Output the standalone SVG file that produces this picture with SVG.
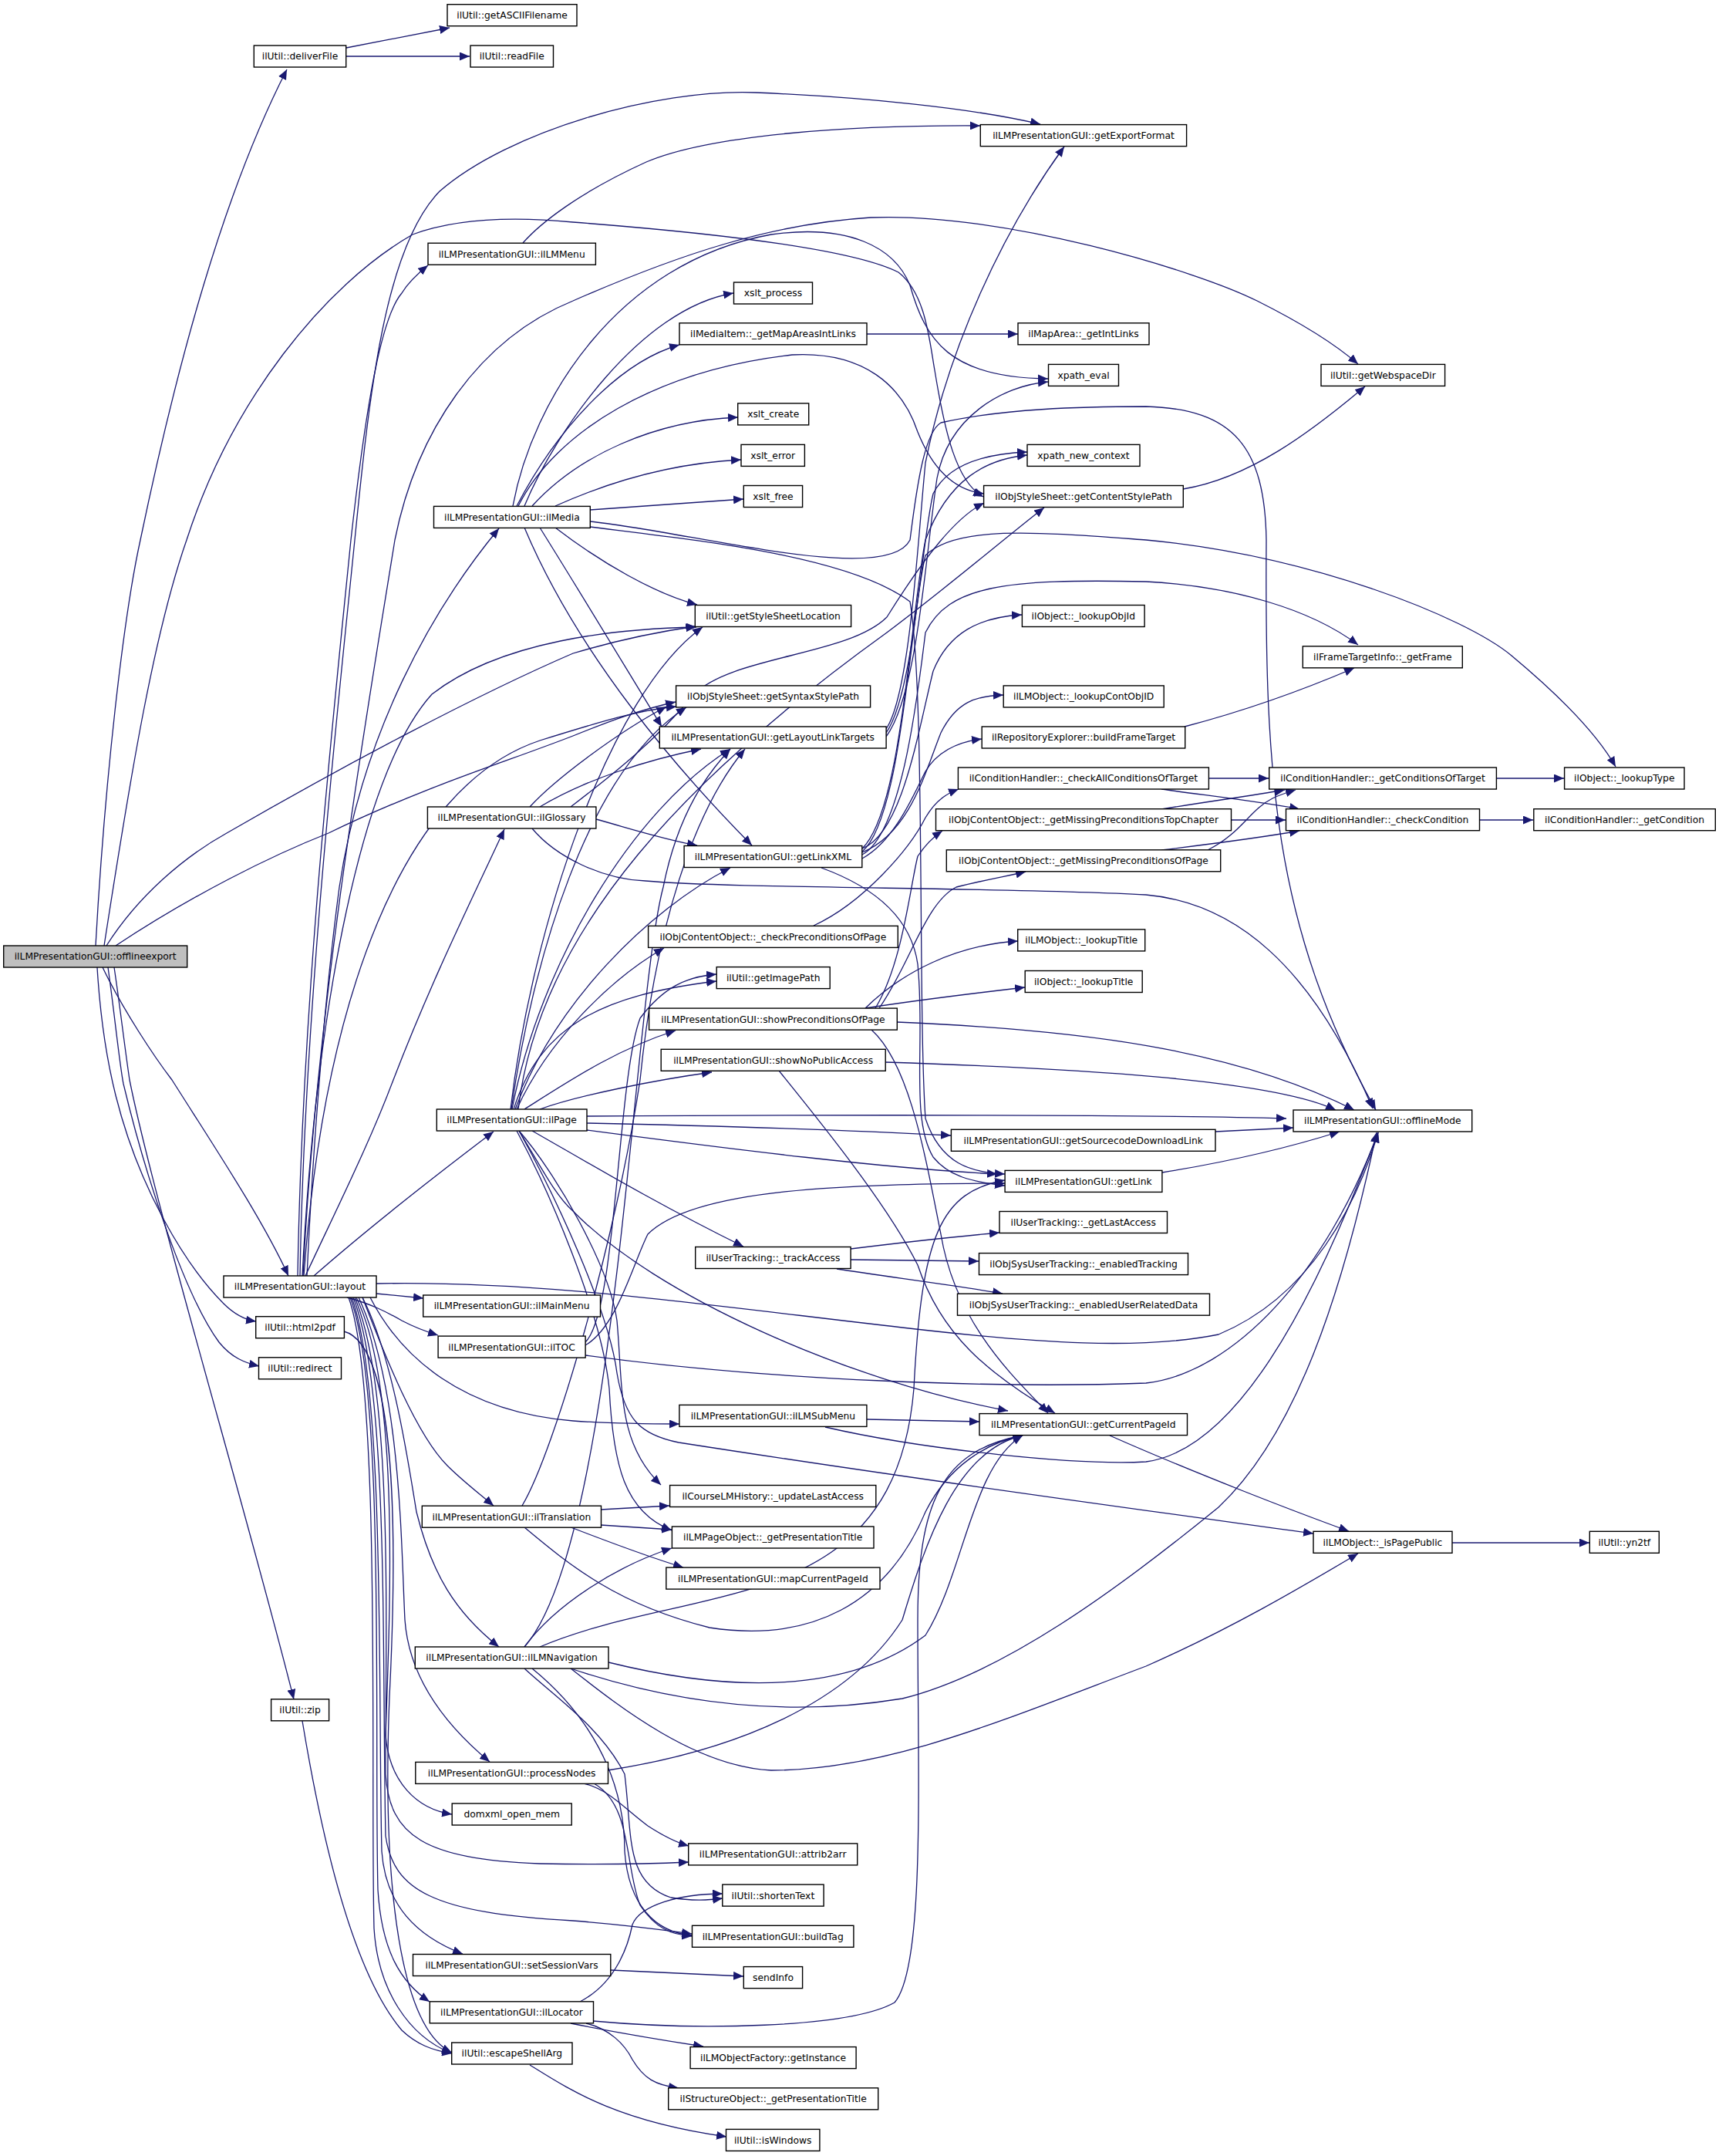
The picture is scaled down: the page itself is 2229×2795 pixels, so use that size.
<svg xmlns="http://www.w3.org/2000/svg" width="2229" height="2795" viewBox="0 0 2229 2795">
<defs>
<marker id="a" markerWidth="14" markerHeight="11" refX="13" refY="5.5" orient="auto" markerUnits="userSpaceOnUse"><path d="M0,0 L13,5.5 L0,11 z" fill="#191970"/></marker>
<style>
.n rect{fill:#fff;stroke:#000;stroke-width:1.4}
.n.root rect{fill:#bfbfbf}
.n text{font-family:"DejaVu Sans","Liberation Sans",sans-serif;font-size:12.3px;text-anchor:middle;fill:#000}
#edges path{fill:none;stroke:#191970;stroke-width:1.3;marker-end:url(#a)}
</style>
</defs>
<rect width="2229" height="2795" fill="#fff"/>
<g id="edges">
<path d="M124,1226 C136,1010 160,800 182,700 C230,470 290,250 372,90"/>
<path d="M449,62 L583,36"/>
<path d="M449,73 L609,73"/>
<path d="M135,1226 C170,1000 200,820 242,700 C300,520 420,370 535,304 C600,280 680,282 743,288 C900,300 1100,320 1165,353 C1200,380 1205,440 1212,480 C1225,560 1240,625 1275,644"/>
<path d="M138,1226 C180,1160 240,1110 294,1080 C450,990 620,900 743,847 C800,830 860,818 902,812"/>
<path d="M150,1226 C250,1160 350,1110 426,1080 C550,1020 650,990 743,954 C790,935 830,920 876,910"/>
<path d="M133,1254 C160,1310 200,1370 223,1400 C280,1490 340,1580 374,1654"/>
<path d="M126,1254 C130,1320 140,1380 150,1420 C180,1540 240,1640 290,1690 C305,1705 318,1711 332,1713"/>
<path d="M140,1254 C148,1310 155,1380 160,1405 C190,1530 240,1680 284,1740 C300,1760 318,1767 336,1771"/>
<path d="M148,1254 C155,1300 162,1360 168,1400 C200,1560 320,1960 381,2203"/>
<path d="M389,1654 C395,1300 440,900 460,700 C480,500 500,320 570,248 C660,170 850,115 980,120 C1120,126 1260,140 1349,161"/>
<path d="M386,1654 C392,1300 430,950 455,700 C475,520 495,410 521,380 C530,365 545,352 555,344"/>
<path d="M393,1654 C410,1300 480,900 512,700 C540,560 620,440 743,390 C880,330 1000,290 1129,282 C1300,275 1550,350 1630,390 C1690,420 1730,445 1761,472"/>
<path d="M398,1654 C405,1500 420,1300 440,1150 C470,950 560,790 647,685"/>
<path d="M407,1654 C480,1590 570,1520 640,1467"/>
<path d="M396,1654 C440,1560 480,1480 510,1400 C560,1270 610,1170 654,1075"/>
<path d="M488,1677 L549,1683"/>
<path d="M450,1682 C480,1690 500,1700 521,1712 C540,1722 555,1727 568,1731"/>
<path d="M488,1664 C700,1660 900,1690 1170,1721 C1350,1742 1480,1750 1580,1730 C1700,1680 1760,1560 1787,1468"/>
<path d="M470,1682 C500,1760 540,1860 580,1900 C600,1920 620,1935 640,1952"/>
<path d="M470,1682 C510,1760 530,1900 540,1960 C560,2040 590,2090 647,2135"/>
<path d="M465,1682 C520,1800 520,2000 525,2100 C530,2170 570,2230 635,2284"/>
<path d="M462,1682 C520,1800 505,2100 500,2250 C505,2310 540,2345 586,2352"/>
<path d="M460,1682 C510,1800 500,2100 500,2300 C505,2380 550,2410 700,2416 C800,2418 850,2416 893,2414"/>
<path d="M458,1682 C505,1800 495,2150 500,2380 C510,2450 560,2480 743,2490 C820,2496 860,2502 897,2507"/>
<path d="M456,1682 C500,1800 490,2200 495,2400 C500,2470 540,2510 600,2533"/>
<path d="M454,1682 C500,1800 485,2250 490,2450 C495,2530 520,2570 557,2595"/>
<path d="M452,1682 C495,1800 480,2300 485,2500 C490,2580 530,2640 586,2662"/>
<path d="M392,1654 C410,1300 470,1000 560,900 C650,830 800,815 903,813"/>
<path d="M394,1654 C420,1300 520,1020 700,960 C780,935 830,920 877,916"/>
<path d="M480,1682 C520,1760 600,1830 743,1842 C800,1846 840,1846 881,1846"/>
<path d="M761,1447 C1100,1445 1500,1445 1668,1450"/>
<path d="M761,1456 C950,1460 1100,1465 1233,1472"/>
<path d="M761,1465 C950,1490 1150,1515 1293,1522"/>
<path d="M690,1466 C750,1500 850,1560 964,1616"/>
<path d="M673,1466 C700,1510 720,1550 743,1570 C850,1680 1100,1790 1307,1829"/>
<path d="M673,1466 C720,1550 790,1700 800,1780 C810,1840 830,1860 880,1870 C1200,1920 1500,1960 1703,1988"/>
<path d="M673,1466 C720,1520 790,1640 800,1712 C808,1800 800,1870 857,1925"/>
<path d="M670,1466 C710,1540 780,1700 790,1800 C795,1900 810,1960 871,1984"/>
<path d="M700,1438 C750,1420 850,1400 923,1390"/>
<path d="M680,1438 C740,1400 800,1360 876,1336"/>
<path d="M670,1438 C710,1350 790,1270 861,1229"/>
<path d="M668,1438 C720,1300 840,1180 947,1125"/>
<path d="M666,1438 C700,1330 780,1290 929,1272"/>
<path d="M664,1438 C700,1250 820,1050 947,971"/>
<path d="M662,1438 C690,1200 790,900 911,813"/>
<path d="M663,1438 C690,1250 760,1000 890,917"/>
<path d="M672,1438 C700,1200 900,1000 1150,820 C1230,760 1300,700 1354,658"/>
<path d="M759,1757 C1000,1790 1300,1800 1486,1793 C1600,1780 1720,1650 1787,1468"/>
<path d="M759,1744 C800,1720 820,1640 840,1600 C900,1540 1100,1535 1303,1534"/>
<path d="M759,1740 C800,1700 800,1400 830,1320 C860,1280 890,1266 929,1263"/>
<path d="M1124,1840 L1270,1843"/>
<path d="M1070,1850 C1200,1880 1400,1900 1486,1895 C1600,1880 1700,1700 1787,1468"/>
<path d="M779,1957 L868,1952"/>
<path d="M779,1977 L871,1983"/>
<path d="M740,1980 C780,1995 830,2015 886,2032"/>
<path d="M680,1980 C740,2030 800,2080 920,2110 C1050,2130 1150,2080 1200,1960 C1230,1900 1280,1870 1326,1861"/>
<path d="M677,1952 C720,1880 800,1600 830,1400 C850,1200 900,1050 966,971"/>
<path d="M680,2135 C720,2080 800,2030 871,2007"/>
<path d="M740,2163 C850,2200 1000,2230 1170,2202 C1300,2170 1450,2060 1580,1954 C1680,1860 1740,1680 1785,1468"/>
<path d="M789,2155 C950,2195 1100,2195 1200,2120 C1250,2040 1260,1900 1326,1861"/>
<path d="M740,2163 C800,2210 900,2290 1000,2295 C1150,2295 1300,2230 1486,2160 C1600,2110 1700,2050 1761,2014"/>
<path d="M700,2135 C900,2050 1160,2100 1185,1800 C1195,1600 1220,1545 1303,1530"/>
<path d="M680,2135 C800,2000 820,1300 860,1150 C880,1050 920,1000 947,971"/>
<path d="M680,2163 C720,2200 780,2240 810,2300 C820,2380 810,2440 870,2460 C900,2465 920,2463 937,2461"/>
<path d="M690,2163 C760,2220 810,2300 810,2400 C815,2470 850,2505 897,2509"/>
<path d="M788,2295 C950,2270 1100,2210 1170,2100 C1200,2000 1240,1880 1326,1861"/>
<path d="M757,2312 C790,2320 810,2345 840,2367 C860,2380 875,2388 893,2393"/>
<path d="M770,2312 C820,2340 810,2420 830,2470 C850,2500 870,2508 897,2510"/>
<path d="M752,2595 C800,2570 815,2520 820,2495 C830,2470 880,2455 937,2455"/>
<path d="M769,2620 C900,2632 1100,2630 1160,2596 C1200,2550 1190,2300 1190,2100 C1190,1950 1220,1880 1326,1861"/>
<path d="M740,2623 C800,2635 860,2645 912,2653"/>
<path d="M760,2623 C790,2630 810,2650 820,2670 C835,2695 850,2703 880,2707"/>
<path d="M792,2554 L964,2562"/>
<path d="M687,2677 C740,2710 800,2750 942,2770"/>
<path d="M392,2231 C420,2400 460,2560 521,2632 C540,2650 560,2658 586,2662"/>
<path d="M446,1726 C500,1740 520,1900 505,2200 C495,2450 520,2630 586,2661"/>
<path d="M1118,1100 C1170,1080 1190,950 1210,870 C1230,820 1270,800 1325,797"/>
<path d="M1118,1105 C1180,1080 1200,1000 1220,950 C1240,910 1265,902 1301,901"/>
<path d="M1118,1113 C1160,1090 1185,1030 1200,1000 C1215,975 1240,962 1273,958"/>
<path d="M1118,1100 C1170,1050 1180,800 1200,700 C1230,620 1280,595 1332,590"/>
<path d="M1118,1108 C1170,1080 1190,900 1200,820 C1230,760 1300,750 1486,754 C1600,760 1700,790 1761,836"/>
<path d="M1118,1104 C1170,1060 1180,800 1200,720 C1240,680 1350,690 1486,700 C1700,720 1900,800 1960,850 C2020,900 2070,950 2095,994"/>
<path d="M1065,1125 C1120,1145 1180,1180 1190,1250 C1200,1350 1180,1450 1210,1500 C1230,1525 1260,1532 1303,1537"/>
<path d="M1149,945 C1180,900 1190,700 1200,600 C1230,450 1300,300 1380,190"/>
<path d="M1149,950 C1185,900 1195,700 1210,640 C1230,600 1280,588 1332,586"/>
<path d="M1149,955 C1190,900 1200,720 1215,620 C1230,540 1300,500 1359,495"/>
<path d="M687,1046 C720,1010 800,950 864,916"/>
<path d="M700,1046 C760,1010 840,985 909,971"/>
<path d="M773,1062 C820,1075 860,1088 904,1096"/>
<path d="M690,1074 C720,1110 780,1140 837,1142 C950,1152 1300,1150 1486,1160 C1600,1170 1700,1250 1780,1437"/>
<path d="M740,1046 C800,1000 850,960 900,900 C950,850 1100,850 1150,800 C1200,720 1240,670 1276,652"/>
<path d="M1122,1307 C1170,1260 1240,1225 1320,1220"/>
<path d="M1122,1307 C1200,1295 1260,1288 1329,1280"/>
<path d="M1135,1307 C1170,1250 1180,1150 1190,1110 C1200,1095 1210,1085 1222,1077"/>
<path d="M1140,1307 C1180,1250 1200,1170 1240,1150 C1280,1140 1310,1135 1330,1130"/>
<path d="M1163,1325 C1400,1335 1600,1360 1756,1439"/>
<path d="M1130,1335 C1180,1380 1200,1500 1220,1600 C1240,1720 1320,1790 1359,1832"/>
<path d="M1148,1377 C1400,1385 1650,1400 1732,1439"/>
<path d="M1010,1388 C1060,1450 1150,1560 1190,1640 C1220,1730 1280,1780 1368,1832"/>
<path d="M1055,1200 C1120,1170 1180,1100 1200,1060 C1215,1035 1230,1028 1243,1023"/>
<path d="M1596,1063 L1667,1063"/>
<path d="M1506,1049 C1560,1040 1620,1032 1666,1024"/>
<path d="M1506,1102 C1580,1093 1640,1085 1685,1077"/>
<path d="M1566,1102 C1610,1080 1620,1050 1650,1035 C1660,1030 1670,1027 1680,1024"/>
<path d="M1567,1009 L1645,1009"/>
<path d="M1506,1023 C1570,1032 1640,1040 1685,1049"/>
<path d="M1940,1009 L2028,1009"/>
<path d="M1918,1063 L1988,1063"/>
<path d="M1536,942 C1620,920 1700,890 1756,866"/>
<path d="M1534,634 C1620,620 1700,560 1770,501"/>
<path d="M1124,433 L1320,433"/>
<path d="M1576,1467 L1677,1462"/>
<path d="M1507,1520 C1600,1505 1680,1485 1737,1467"/>
<path d="M1439,1861 C1550,1910 1680,1960 1749,1985"/>
<path d="M1883,2000 L2061,2000"/>
<path d="M1103,1619 C1160,1612 1230,1604 1296,1598"/>
<path d="M1103,1633 L1269,1635"/>
<path d="M1085,1645 C1150,1655 1250,1668 1300,1677"/>
<path d="M680,656 C720,560 830,400 951,380"/>
<path d="M670,656 C720,560 800,470 881,447"/>
<path d="M690,656 C750,590 850,545 957,541"/>
<path d="M720,656 C800,620 880,600 961,596"/>
<path d="M765,661 L964,647"/>
<path d="M665,656 C690,520 800,340 1000,304 C1100,290 1160,320 1180,370 C1200,440 1230,490 1359,491"/>
<path d="M672,656 C720,560 850,480 1027,460 C1120,455 1170,500 1190,560 C1210,610 1240,636 1276,640"/>
<path d="M720,684 C780,730 850,770 904,784"/>
<path d="M700,684 C760,780 820,880 858,942"/>
<path d="M680,684 C750,850 880,1000 975,1096"/>
<path d="M765,683 C900,700 1100,720 1180,780 C1200,900 1190,1300 1200,1450 C1220,1510 1260,1520 1303,1522"/>
<path d="M765,676 C900,690 1150,760 1180,700 C1190,620 1200,560 1220,548 C1300,530 1400,527 1486,527 C1600,530 1640,580 1642,700 C1640,1000 1650,1200 1784,1439"/>
<path d="M678,315 C700,290 750,250 838,210 C920,175 1100,162 1271,163"/>
</g>
<g id="n1" class="n root"><rect x="4.7" y="1226" width="238" height="28"/><text x="123.7" y="1244.4">ilLMPresentationGUI::offlineexport</text></g>
<g id="n2" class="n"><rect x="329.3" y="59" width="119.4" height="28"/><text x="389" y="77.4">ilUtil::deliverFile</text></g>
<g id="n3" class="n"><rect x="580" y="5.7" width="168" height="28"/><text x="664" y="24.1">ilUtil::getASCIIFilename</text></g>
<g id="n4" class="n"><rect x="610" y="59" width="107.5" height="28"/><text x="663.7" y="77.4">ilUtil::readFile</text></g>
<g id="n5" class="n"><rect x="1271.3" y="161.6" width="267.3" height="28"/><text x="1405" y="180">ilLMPresentationGUI::getExportFormat</text></g>
<g id="n6" class="n"><rect x="555" y="315.2" width="217.4" height="28"/><text x="663.7" y="333.6">ilLMPresentationGUI::ilLMMenu</text></g>
<g id="n7" class="n"><rect x="951.5" y="366" width="102" height="28"/><text x="1002.5" y="384.4">xslt_process</text></g>
<g id="n8" class="n"><rect x="881" y="418.8" width="243" height="28"/><text x="1002.5" y="437.2">ilMediaItem::_getMapAreasIntLinks</text></g>
<g id="n9" class="n"><rect x="1320" y="418.8" width="170" height="28"/><text x="1405" y="437.2">ilMapArea::_getIntLinks</text></g>
<g id="n10" class="n"><rect x="1359.5" y="472.4" width="91" height="28"/><text x="1405" y="490.8">xpath_eval</text></g>
<g id="n11" class="n"><rect x="1713" y="472.4" width="160.6" height="28"/><text x="1793.3" y="490.8">ilUtil::getWebspaceDir</text></g>
<g id="n12" class="n"><rect x="956.7" y="522.9" width="92" height="28"/><text x="1002.7" y="541.3">xslt_create</text></g>
<g id="n13" class="n"><rect x="961" y="576.4" width="82.4" height="28"/><text x="1002.2" y="594.8">xslt_error</text></g>
<g id="n14" class="n"><rect x="1332" y="576.4" width="146" height="28"/><text x="1405" y="594.8">xpath_new_context</text></g>
<g id="n15" class="n"><rect x="964.3" y="629.5" width="76.3" height="28"/><text x="1002.5" y="647.9">xslt_free</text></g>
<g id="n16" class="n"><rect x="1275.6" y="629.5" width="258.7" height="28"/><text x="1405" y="647.9">ilObjStyleSheet::getContentStylePath</text></g>
<g id="n17" class="n"><rect x="562.5" y="656.4" width="202.8" height="28"/><text x="663.9" y="674.8">ilLMPresentationGUI::ilMedia</text></g>
<g id="n18" class="n"><rect x="901.3" y="784.5" width="202.3" height="28"/><text x="1002.5" y="802.9">ilUtil::getStyleSheetLocation</text></g>
<g id="n19" class="n"><rect x="1325.4" y="784.5" width="158.7" height="28"/><text x="1404.8" y="802.9">ilObject::_lookupObjId</text></g>
<g id="n20" class="n"><rect x="1689.3" y="837.8" width="207" height="28"/><text x="1792.8" y="856.2">ilFrameTargetInfo::_getFrame</text></g>
<g id="n21" class="n"><rect x="876.6" y="888.9" width="252" height="28"/><text x="1002.6" y="907.3">ilObjStyleSheet::getSyntaxStylePath</text></g>
<g id="n22" class="n"><rect x="1301.2" y="888.9" width="208" height="28"/><text x="1405.2" y="907.3">ilLMObject::_lookupContObjID</text></g>
<g id="n23" class="n"><rect x="855.3" y="942" width="293.8" height="28"/><text x="1002.2" y="960.4">ilLMPresentationGUI::getLayoutLinkTargets</text></g>
<g id="n24" class="n"><rect x="1273.2" y="942" width="263.5" height="28"/><text x="1405" y="960.4">ilRepositoryExplorer::buildFrameTarget</text></g>
<g id="n25" class="n"><rect x="1242.4" y="995" width="325" height="28"/><text x="1404.9" y="1013.4">ilConditionHandler::_checkAllConditionsOfTarget</text></g>
<g id="n26" class="n"><rect x="1645.7" y="995" width="294.7" height="28"/><text x="1793" y="1013.4">ilConditionHandler::_getConditionsOfTarget</text></g>
<g id="n27" class="n"><rect x="2028.6" y="995" width="155.4" height="28"/><text x="2106.3" y="1013.4">ilObject::_lookupType</text></g>
<g id="n28" class="n"><rect x="554.4" y="1046" width="218.5" height="28"/><text x="663.6" y="1064.4">ilLMPresentationGUI::ilGlossary</text></g>
<g id="n29" class="n"><rect x="1213.5" y="1048.7" width="383" height="28"/><text x="1405" y="1067.1">ilObjContentObject::_getMissingPreconditionsTopChapter</text></g>
<g id="n30" class="n"><rect x="1667.5" y="1048.7" width="251" height="28"/><text x="1793" y="1067.1">ilConditionHandler::_checkCondition</text></g>
<g id="n31" class="n"><rect x="1988.8" y="1048.7" width="235.5" height="28"/><text x="2106.5" y="1067.1">ilConditionHandler::_getCondition</text></g>
<g id="n32" class="n"><rect x="887.1" y="1096.5" width="230.7" height="28"/><text x="1002.4" y="1114.9">ilLMPresentationGUI::getLinkXML</text></g>
<g id="n33" class="n"><rect x="1227.3" y="1101.8" width="355.4" height="28"/><text x="1405" y="1120.2">ilObjContentObject::_getMissingPreconditionsOfPage</text></g>
<g id="n34" class="n"><rect x="840.6" y="1200.4" width="323.7" height="28"/><text x="1002.4" y="1218.8">ilObjContentObject::_checkPreconditionsOfPage</text></g>
<g id="n35" class="n"><rect x="1319.7" y="1204.9" width="165" height="28"/><text x="1402.2" y="1223.3">ilLMObject::_lookupTitle</text></g>
<g id="n36" class="n"><rect x="929.2" y="1253.6" width="147" height="28"/><text x="1002.7" y="1272">ilUtil::getImagePath</text></g>
<g id="n37" class="n"><rect x="1329.2" y="1258.5" width="152" height="28"/><text x="1405.2" y="1276.9">ilObject::_lookupTitle</text></g>
<g id="n38" class="n"><rect x="841.6" y="1307.1" width="321.7" height="28"/><text x="1002.4" y="1325.5">ilLMPresentationGUI::showPreconditionsOfPage</text></g>
<g id="n39" class="n"><rect x="857.2" y="1360.3" width="291" height="28"/><text x="1002.7" y="1378.7">ilLMPresentationGUI::showNoPublicAccess</text></g>
<g id="n40" class="n"><rect x="566.3" y="1438" width="194.7" height="28"/><text x="663.6" y="1456.4">ilLMPresentationGUI::ilPage</text></g>
<g id="n41" class="n"><rect x="1677" y="1439" width="231.7" height="28"/><text x="1792.8" y="1457.4">ilLMPresentationGUI::offlineMode</text></g>
<g id="n42" class="n"><rect x="1233.4" y="1464.3" width="342.6" height="28"/><text x="1404.7" y="1482.7">ilLMPresentationGUI::getSourcecodeDownloadLink</text></g>
<g id="n43" class="n"><rect x="1303.1" y="1517.4" width="203.8" height="28"/><text x="1405" y="1535.8">ilLMPresentationGUI::getLink</text></g>
<g id="n44" class="n"><rect x="1296" y="1570.5" width="217.5" height="28"/><text x="1404.7" y="1588.9">ilUserTracking::_getLastAccess</text></g>
<g id="n45" class="n"><rect x="901.7" y="1616.5" width="201.4" height="28"/><text x="1002.4" y="1634.9">ilUserTracking::_trackAccess</text></g>
<g id="n46" class="n"><rect x="1269.5" y="1624.6" width="271" height="28"/><text x="1405" y="1643">ilObjSysUserTracking::_enabledTracking</text></g>
<g id="n47" class="n"><rect x="290" y="1654" width="198" height="28"/><text x="389" y="1672.4">ilLMPresentationGUI::layout</text></g>
<g id="n48" class="n"><rect x="1241.5" y="1677.2" width="327" height="28"/><text x="1405" y="1695.6">ilObjSysUserTracking::_enabledUserRelatedData</text></g>
<g id="n49" class="n"><rect x="548.7" y="1679" width="229.8" height="28"/><text x="663.6" y="1697.4">ilLMPresentationGUI::ilMainMenu</text></g>
<g id="n50" class="n"><rect x="331.7" y="1706.7" width="114.7" height="28"/><text x="389" y="1725.1">ilUtil::html2pdf</text></g>
<g id="n51" class="n"><rect x="568.1" y="1732.1" width="191" height="28"/><text x="663.6" y="1750.5">ilLMPresentationGUI::ilTOC</text></g>
<g id="n52" class="n"><rect x="335.5" y="1759.8" width="107" height="28"/><text x="389" y="1778.2">ilUtil::redirect</text></g>
<g id="n53" class="n"><rect x="880.9" y="1821.4" width="243" height="28"/><text x="1002.4" y="1839.8">ilLMPresentationGUI::ilLMSubMenu</text></g>
<g id="n54" class="n"><rect x="1270" y="1832.6" width="269.5" height="28"/><text x="1404.7" y="1851">ilLMPresentationGUI::getCurrentPageId</text></g>
<g id="n55" class="n"><rect x="868.6" y="1925.5" width="267.2" height="28"/><text x="1002.2" y="1943.9">ilCourseLMHistory::_updateLastAccess</text></g>
<g id="n56" class="n"><rect x="547.3" y="1952.2" width="232.2" height="28"/><text x="663.4" y="1970.6">ilLMPresentationGUI::ilTranslation</text></g>
<g id="n57" class="n"><rect x="871.4" y="1979" width="261.6" height="28"/><text x="1002.2" y="1997.4">ilLMPageObject::_getPresentationTitle</text></g>
<g id="n58" class="n"><rect x="1703" y="1985.3" width="180" height="28"/><text x="1793" y="2003.7">ilLMObject::_isPagePublic</text></g>
<g id="n59" class="n"><rect x="2061.3" y="1985.3" width="90" height="28"/><text x="2106.3" y="2003.7">ilUtil::yn2tf</text></g>
<g id="n60" class="n"><rect x="863.8" y="2032.1" width="277.2" height="28"/><text x="1002.4" y="2050.5">ilLMPresentationGUI::mapCurrentPageId</text></g>
<g id="n61" class="n"><rect x="538.3" y="2135" width="250.7" height="28"/><text x="663.6" y="2153.4">ilLMPresentationGUI::ilLMNavigation</text></g>
<g id="n62" class="n"><rect x="351.6" y="2202.8" width="75" height="28"/><text x="389.1" y="2221.2">ilUtil::zip</text></g>
<g id="n63" class="n"><rect x="538.8" y="2284.4" width="249.7" height="28"/><text x="663.6" y="2302.8">ilLMPresentationGUI::processNodes</text></g>
<g id="n64" class="n"><rect x="586.2" y="2338" width="155" height="28"/><text x="663.7" y="2356.4">domxml_open_mem</text></g>
<g id="n65" class="n"><rect x="892.7" y="2389.9" width="219" height="28"/><text x="1002.2" y="2408.3">ilLMPresentationGUI::attrib2arr</text></g>
<g id="n66" class="n"><rect x="936.8" y="2443.1" width="131.3" height="28"/><text x="1002.4" y="2461.5">ilUtil::shortenText</text></g>
<g id="n67" class="n"><rect x="897.5" y="2496.3" width="209.4" height="28"/><text x="1002.2" y="2514.7">ilLMPresentationGUI::buildTag</text></g>
<g id="n68" class="n"><rect x="535.5" y="2533.5" width="256.3" height="28"/><text x="663.6" y="2551.9">ilLMPresentationGUI::setSessionVars</text></g>
<g id="n69" class="n"><rect x="964.3" y="2549.6" width="76.3" height="28"/><text x="1002.5" y="2568">sendInfo</text></g>
<g id="n70" class="n"><rect x="557.3" y="2594.8" width="212.2" height="28"/><text x="663.4" y="2613.2">ilLMPresentationGUI::ilLocator</text></g>
<g id="n71" class="n"><rect x="585.7" y="2648" width="156.3" height="28"/><text x="663.8" y="2666.4">ilUtil::escapeShellArg</text></g>
<g id="n72" class="n"><rect x="895.1" y="2653.6" width="215" height="28"/><text x="1002.6" y="2672">ilLMObjectFactory::getInstance</text></g>
<g id="n73" class="n"><rect x="866.7" y="2706.8" width="272" height="28"/><text x="1002.7" y="2725.2">ilStructureObject::_getPresentationTitle</text></g>
<g id="n74" class="n"><rect x="941.5" y="2760.4" width="121.4" height="28"/><text x="1002.2" y="2778.8">ilUtil::isWindows</text></g>
</svg>
